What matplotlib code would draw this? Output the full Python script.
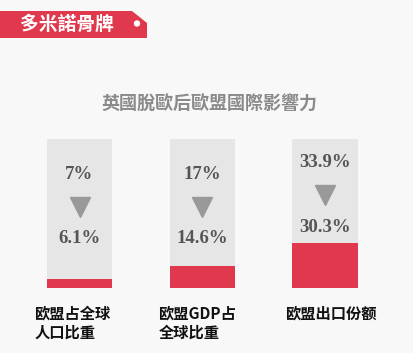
import matplotlib.pyplot as plt
from matplotlib.patches import Polygon, Circle

# data
categories = ["欧盟占全球\n人口比重", "欧盟GDP占\n全球比重", "欧盟出口份额"]
before = [7, 17, 33.9]
after = [6.1, 14.6, 30.3]
before_labels = ["7%", "17%", "33.9%"]
after_labels = ["6.1%", "14.6%", "30.3%"]
title = "英國脫歐后歐盟國際影響力"
tag = "多米諾骨牌"

W, H = 414, 353
bg = "#f8f8f8"
red = "#e0394e"
fig = plt.figure(figsize=(W / 100, H / 100), dpi=100, facecolor=bg)

# bar area: 0..100 maps to pixel rows 288..139
ax = fig.add_axes([0, (H - 288) / H, 1, 149 / H])
ax.set_facecolor("none")
step = 122.75
ax.set_xlim(-79.5 / step, (W - 79.5) / step)
ax.set_ylim(0, 100)
ax.axis("off")

x = list(range(len(categories)))
ax.bar(x, [100] * len(x), width=0.53, color="#e6e6e6", zorder=1)
ax.bar(x, after, width=0.53, color=red, zorder=2)

label_shift = [-7, -5, 6]  # pixels, caption block vs bar centre
for i in x:
    ya = max(33, after[i] + 10.6)
    ax.text(i, ya, after_labels[i], ha="center", va="center", fontsize=13.5,
            family="Liberation Serif", weight="bold", color="#555555", zorder=3)
    ax.plot(i, ya + 21.5, marker="v", markersize=15, color="#999999",
            linestyle="none", zorder=3)
    ax.text(i, ya + 43, before_labels[i], ha="center", va="center", fontsize=13.5,
            family="Liberation Serif", weight="bold", color="#555555", zorder=3)
    ax.text(i + label_shift[i] / step, -12, categories[i], ha="center", va="top",
            fontsize=11, multialignment="left", linespacing=1.25,
            family=["Noto Sans CJK SC", "DejaVu Sans"], weight="bold",
            color="#111111", clip_on=False)

# overlay in pixel coordinates for the header
ov = fig.add_axes([0, 0, 1, 1])
ov.set_xlim(0, W)
ov.set_ylim(H, 0)
ov.axis("off")
ov.set_zorder(-1)
ov.add_patch(Polygon([(0, 11), (132, 11), (147, 23), (147, 38), (0, 38)],
                     closed=True, color=red, lw=0))
ov.add_patch(Circle((137, 23.5), 3.2, color="white", lw=0))
ov.text(67, 24.5, tag, ha="center", va="center", fontsize=13.5, weight="heavy",
        family=["Noto Sans CJK TC", "DejaVu Sans"], color="white")

fig.text(209 / W, 1 - 104 / H, title, ha="center", va="center", fontsize=13,
         weight="bold", family=["Noto Sans CJK TC", "DejaVu Sans"], color="#8a8a8a")

fig.savefig("out.png", dpi=100, facecolor=bg)
